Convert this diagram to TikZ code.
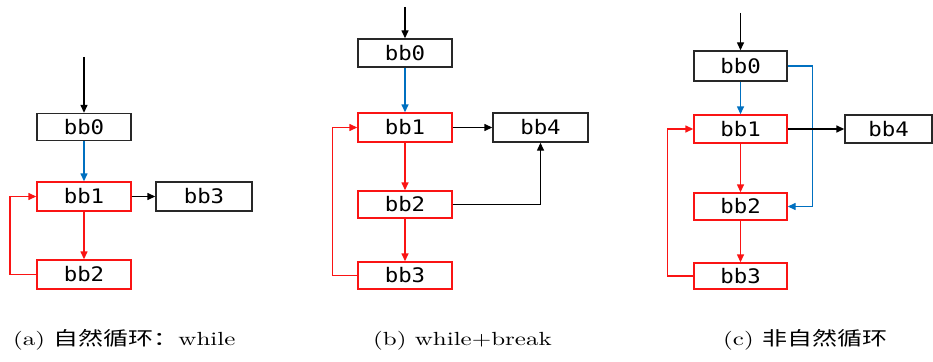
\documentclass[tikz,border=0pt]{standalone}
\usepackage{graphicx}
\usepackage{fontspec}
\setmonofont{DejaVu Sans Mono}
\newfontfamily\cjk{Noto Sans CJK SC}
\usetikzlibrary{arrows.meta}
\definecolor{lred}{RGB}{250,20,20}
\definecolor{lblue}{RGB}{0,112,192}
\definecolor{lgray}{RGB}{40,40,40}
\newcommand{\bbtext}[1]{\scalebox{1.12}[1]{#1}}
\newcommand{\captxt}[1]{\scalebox{2.5}[1.9]{#1}}
\begin{document}
\begin{tikzpicture}[x=1pt,y=-1pt,
  blk/.style={draw=lgray,line width=1.4pt,minimum width=94pt,minimum height=28pt,inner sep=0pt,
    font=\ttfamily\fontsize{20}{20}\selectfont},
  loopblk/.style={blk,draw=lred},
  arr/.style={line width=1.4pt,-{Triangle[length=8pt,width=7pt]}},
  karr/.style={arr,draw=black},
  rarr/.style={arr,draw=lred},
  barr/.style={arr,draw=lblue},
  captext/.style={anchor=base west,inner sep=0pt,font=\fontsize{10}{10}\selectfont}]
\useasboundingbox (0,0) rectangle (933,361);
% (a)
\coordinate (a-in) at (84,57);
\node[blk,minimum height=27pt] (a0) at (84,127) {\bbtext{bb0}};
\node[loopblk,minimum height=29pt] (a1) at (84,196.5) {\bbtext{bb1}};
\node[blk,minimum height=29pt,minimum width=96pt] (a3) at (204,196.5) {\bbtext{bb3}};
\node[loopblk,minimum height=29pt] (a2) at (84,274.5) {\bbtext{bb2}};
\draw[karr] (a-in) -- (a0);
\draw[barr] (a0) -- (a1);
\draw[karr] (a1) -- (a3);
\draw[rarr] (a1) -- (a2);
\draw[rarr] (a2.west) -- ++(-26.5,0) |- (a1.west);
% (b)
\coordinate (b-in) at (405,7);
\node[blk] (b0) at (405,53) {\bbtext{bb0}};
\node[loopblk,minimum height=29pt] (b1) at (405,127.5) {\bbtext{bb1}};
\node[blk,minimum height=29pt,minimum width=95pt] (b4) at (540.5,127.5) {\bbtext{bb4}};
\node[loopblk,minimum height=27pt] (b2) at (405,204.5) {\bbtext{bb2}};
\node[loopblk,minimum height=27pt] (b3) at (405,275.5) {\bbtext{bb3}};
\draw[karr] (b-in) -- (b0);
\draw[barr] (b0) -- (b1);
\draw[karr] (b1) -- (b4);
\draw[rarr] (b1) -- (b2);
\draw[rarr] (b2) -- (b3);
\draw[karr] (b2.east) -| (b4.south);
\draw[rarr] (b3.west) -- ++(-25,0) |- (b1.west);
% (c)
\coordinate (c-in) at (740.5,13);
\node[blk,minimum width=93pt,minimum height=30pt] (c0) at (740.5,66) {\bbtext{bb0}};
\node[loopblk,minimum width=93pt] (c1) at (740.5,129) {\bbtext{bb1}};
\node[blk,minimum width=87pt] (c4) at (888.5,129) {\bbtext{bb4}};
\node[loopblk,minimum width=93pt,minimum height=27pt] (c2) at (740.5,206.5) {\bbtext{bb2}};
\node[loopblk,minimum width=93pt,minimum height=26pt] (c3) at (740.5,276) {\bbtext{bb3}};
\draw[karr] (c-in) -- (c0);
\draw[barr] (c0) -- (c1);
\draw[barr] (c0.east) -- ++(25,0) |- (c2.east);
\draw[karr] (c1) -- (c4);
\draw[rarr] (c1) -- (c2);
\draw[rarr] (c2) -- (c3);
\draw[rarr] (c3.west) -- ++(-26,0) |- (c1.west);
% captions
\node[captext] (capa) at (13,345) {\captxt{(a) {\cjk 自然循环：}while}};
\node[captext] (capb) at (373,345) {\captxt{(b) while+break}};
\node[captext] (capc) at (723,345) {\captxt{(c) {\cjk 非自然循环}}};
\end{tikzpicture}
\end{document}
